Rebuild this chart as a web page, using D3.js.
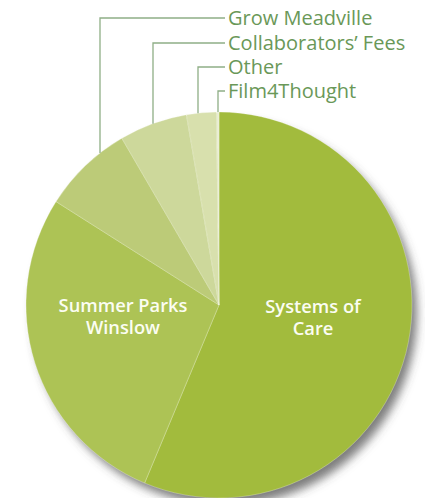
<!DOCTYPE html>
<html>
<head>
<meta charset="utf-8">
<script src="https://cdn.jsdelivr.net/npm/d3@7"></script>
<style>
  body { margin: 0; background: #fff; }
  svg { display: block; }
</style>
</head>
<body>
<div id="pie"></div>
<script>
// budget shares (percent)
const categories = ["Systems of Care", "Summer Parks Winslow", "Grow Meadville", "Collaborators’ Fees", "Other", "Film4Thought"];
const values = [56.3, 27.7, 7.6, 5.7, 2.5, 0.2];
const colors = ["#a2bb3d", "#adc355", "#bccb78", "#cdd89b", "#d8e0ad", "#e8ecd0"];

// inside labels (first two slices), outside labels (the small ones)
const insideLabels = [["Systems of", "Care"], ["Summer Parks", "Winslow"]];
const outsideLabels = ["Grow Meadville", "Collaborators’ Fees", "Other", "Film4Thought"];
const leaderX = [100, 153, 198, 218];
const labelRowY = [18, 43, 67, 91];

const width = 425, height = 498;
const cx = 219, cy = 305, radius = 193;

const svg = d3.select("#pie")
  .append("svg")
  .attr("width", width)
  .attr("height", height);

const defs = svg.append("defs");
const shadow = defs.append("filter")
  .attr("id", "shadow")
  .attr("x", "-20%").attr("y", "-20%")
  .attr("width", "140%").attr("height", "140%");
shadow.append("feDropShadow")
  .attr("dx", 6).attr("dy", 8)
  .attr("stdDeviation", 5)
  .attr("flood-color", "#444")
  .attr("flood-opacity", 0.7);

const data = categories.map((c, i) => ({ name: c, value: values[i] }));

const pie = d3.pie().sort(null).value(d => d.value);
const arc = d3.arc().innerRadius(0).outerRadius(radius);

const g = svg.append("g")
  .attr("transform", `translate(${cx},${cy})`);

g.append("circle")
  .attr("r", radius - 1)
  .attr("fill", colors[0])
  .attr("filter", "url(#shadow)");

g.selectAll("path")
  .data(pie(data))
  .enter()
  .append("path")
  .attr("d", arc)
  .attr("fill", (d, i) => colors[i])
  .attr("stroke", "#ffffff")
  .attr("stroke-opacity", 0.35)
  .attr("stroke-width", 0.8);

// white labels inside the two big slices
const insidePos = [[313, 313], [123, 312]];
insideLabels.forEach((lines, i) => {
  const t = svg.append("text")
    .attr("text-anchor", "middle")
    .attr("font-family", "'Open Sans', sans-serif")
    .attr("font-weight", 600)
    .attr("font-size", 18.3)
    .attr("fill", "#fbfdf2");
  lines.forEach((s, j) => {
    t.append("tspan")
      .attr("x", insidePos[i][0])
      .attr("y", insidePos[i][1] + j * 22)
      .text(s);
  });
});

// leader lines and labels for the small slices
const lineColor = "#8fae86";
outsideLabels.forEach((s, i) => {
  const x = leaderX[i];
  const yEdge = cy - Math.sqrt(radius * radius - (x - cx) * (x - cx));
  svg.append("path")
    .attr("d", `M${x},${yEdge}V${labelRowY[i]}H225`)
    .attr("fill", "none")
    .attr("stroke", lineColor)
    .attr("stroke-width", 1.3);
  svg.append("text")
    .attr("x", 228)
    .attr("y", labelRowY[i])
    .attr("dy", "0.35em")
    .attr("font-family", "'Open Sans', sans-serif")
    .attr("font-size", 20)
    .attr("fill", "#6a9858")
    .text(s);
});
</script>
</body>
</html>
